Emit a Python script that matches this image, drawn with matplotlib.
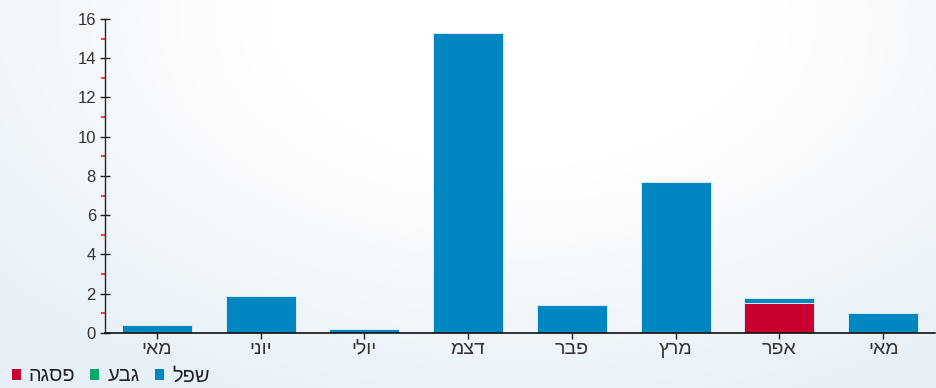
import numpy as np
import matplotlib.pyplot as plt
from matplotlib.ticker import MultipleLocator
from matplotlib.patches import Patch

plt.rcParams['font.family'] = ['Liberation Sans', 'DejaVu Sans']

# data
MONTHS = ['מאי', 'יוני', 'יולי', 'דצמ', 'פבר', 'מרץ', 'אפר', 'מאי']
LOW = [0.4, 1.9, 0.2, 15.3, 1.4, 7.7, 0.3, 1.0]      # שפל
MID = [0, 0, 0, 0, 0, 0, 0, 0]                       # גבע
PEAK = [0, 0, 0, 0, 0, 0, 1.5, 0]                    # פסגה
SERIES = ['פסגה', 'גבע', 'שפל']

BLUE = '#0086c1'
GREEN = '#00a86b'
RED = '#c8002f'


def rtl(s):
    # matplotlib lays glyphs out left to right, so flip Hebrew for display
    return s[::-1]


fig = plt.figure(figsize=(9.37, 3.88), dpi=100)

# soft bluish background like the source page
bg = fig.add_axes([0, 0, 1, 1], zorder=-10)
yy, xx = np.mgrid[0:1:200j, 0:1:400j]
d = np.sqrt(((xx - 0.55) / 0.75) ** 2 + ((yy - 0.05) / 1.1) ** 2)
t = np.clip((d - 0.35) / 0.6, 0, 1)
white = np.array([1.0, 1.0, 1.0])
blue = np.array([0.91, 0.945, 0.97])
img = white[None, None, :] * (1 - t[..., None]) + blue[None, None, :] * t[..., None]
bg.imshow(img, aspect='auto', extent=[0, 1, 0, 1], origin='upper')
bg.axis('off')

ax = fig.add_axes([0.112, 0.142, 0.886, 0.809])
ax.patch.set_alpha(0)

x = np.arange(len(MONTHS))
low = np.array(LOW)
mid = np.array(MID)
peak = np.array(PEAK)
ax.bar(x, peak, width=0.675, color=RED, edgecolor='#e8f2f8', linewidth=0.6)
ax.bar(x, mid, width=0.675, bottom=peak, color=GREEN, edgecolor='#e8f2f8', linewidth=0)
ax.bar(x, low, width=0.675, bottom=peak + mid, color=BLUE, edgecolor='#e8f2f8', linewidth=0.6)

ax.set_xlim(-0.5, 7.5)
ax.set_ylim(0, 16)
ax.set_xticks(x)
ax.set_xticklabels([rtl(m) for m in MONTHS], fontsize=14, color='#333333')
ax.yaxis.set_major_locator(MultipleLocator(2))
ax.yaxis.set_minor_locator(MultipleLocator(1))
ax.tick_params(axis='y', which='major', direction='inout', length=7, width=1,
               color='#222222', labelsize=12, labelcolor='#333333', pad=3)
ax.tick_params(axis='y', which='minor', direction='out', length=3, width=1.2, color='#ff1a1a')
ax.tick_params(axis='x', which='major', direction='out', length=4, width=1,
               color='#222222', pad=2)

for s in ['top', 'right']:
    ax.spines[s].set_visible(False)
ax.spines['left'].set_color('#222222')
ax.spines['bottom'].set_color('#111111')
ax.spines['left'].set_linewidth(1)
ax.spines['bottom'].set_linewidth(1.2)

handles = [Patch(facecolor=c) for c in [RED, GREEN, BLUE]]
fig.legend(handles, [rtl(s) for s in SERIES], loc='lower left', bbox_to_anchor=(-0.007, -0.04), ncol=3,
           frameon=False, fontsize=14.5, handlelength=0.45, handleheight=0.45,
           handletextpad=0.4, columnspacing=0.75, labelcolor='#222222')

fig.savefig('out.png', dpi=100)
